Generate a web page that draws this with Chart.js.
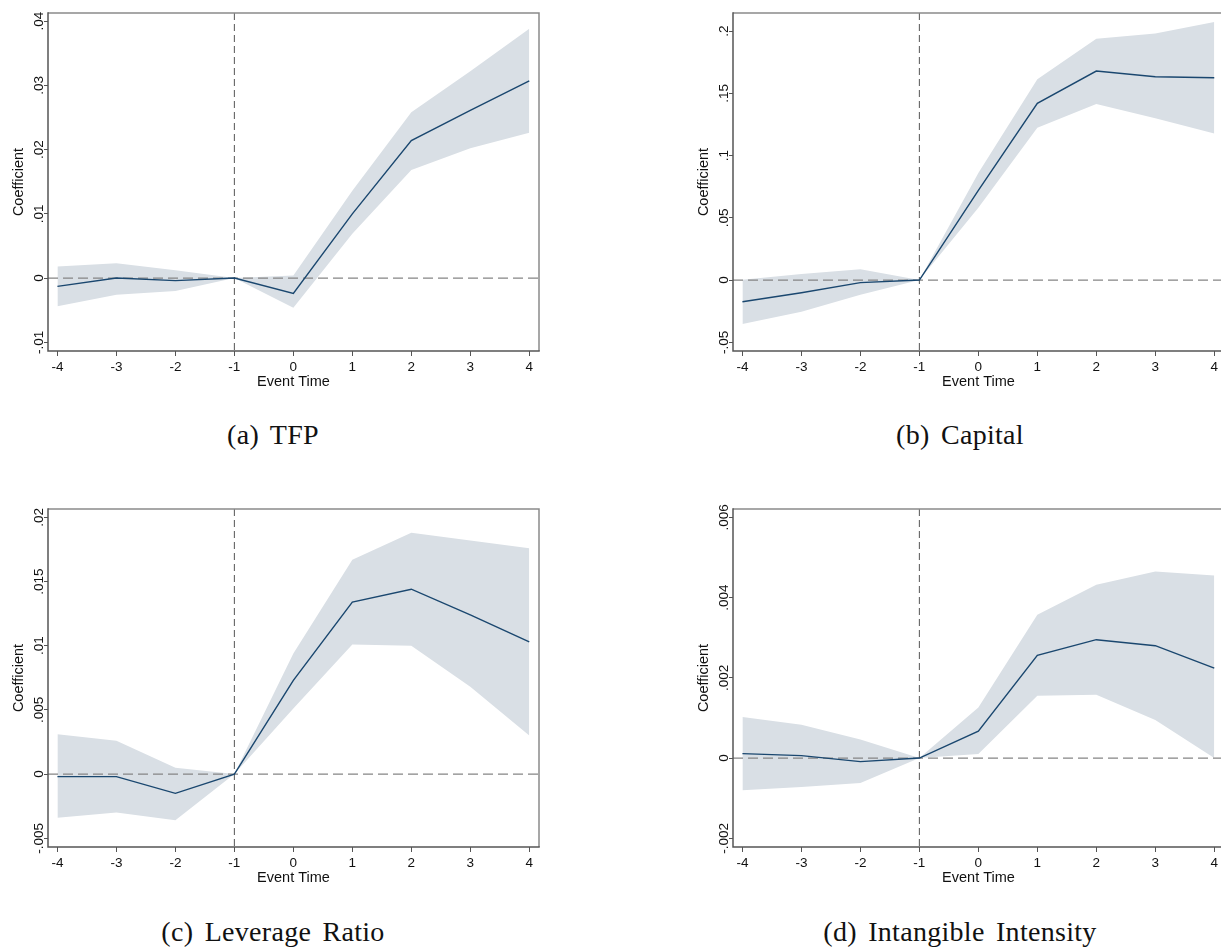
<!DOCTYPE html>
<html>
<head>
<meta charset="utf-8">
<script src="https://cdn.jsdelivr.net/npm/chart.js@4.4.1/dist/chart.umd.min.js"></script>
<style>
  html, body { margin: 0; padding: 0; background: #fff; }
  body { width: 1221px; height: 947px; position: relative; overflow: hidden; }
  canvas { position: absolute; }
  .cap {
    position: absolute; width: 560px; text-align: center;
    font-family: "Liberation Serif", "Times New Roman", serif;
    font-size: 28px; line-height: 28px; color: #111;
    letter-spacing: 0.3px; word-spacing: 4px; white-space: nowrap;
  }
</style>
</head>
<body>
<canvas id="cA" width="560" height="400" style="left:0;top:0"></canvas>
<canvas id="cB" width="560" height="400" style="left:685px;top:0"></canvas>
<canvas id="cC" width="560" height="400" style="left:0;top:496px"></canvas>
<canvas id="cD" width="560" height="400" style="left:685px;top:496px"></canvas>
<div class="cap" style="left:-7px;top:421px">(a) TFP</div>
<div class="cap" style="left:680px;top:421px">(b) Capital</div>
<div class="cap" style="left:-7px;top:918px">(c) Leverage Ratio</div>
<div class="cap" style="left:680px;top:918px">(d) Intangible Intensity</div>
<script>
// event time on the x axis
var eventTime = [-4, -3, -2, -1, 0, 1, 2, 3, 4];
var xTicks = [-4, -3, -2, -1, 0, 1, 2, 3, 4];
var eventLine = -1;

// (a) TFP
var tfpCoef  = [-0.0013, 0.0000, -0.0004, 0, -0.0024, 0.0100, 0.0214, 0.0261, 0.0307];
var tfpUpper = [0.0018, 0.0023, 0.0012, 0, 0.0004, 0.0136, 0.0258, 0.0322, 0.0388];
var tfpLower = [-0.0044, -0.0026, -0.0020, 0, -0.0046, 0.0069, 0.0168, 0.0202, 0.0226];
var tfpTicks = [-0.01, 0, 0.01, 0.02, 0.03, 0.04];
var tfpTickLabels = ["-.01", "0", ".01", ".02", ".03", ".04"];

// (b) Capital
var capCoef  = [-0.0174, -0.0102, -0.0021, 0, 0.072, 0.1419, 0.1679, 0.1633, 0.1625];
var capUpper = [0.0003, 0.0048, 0.0086, 0, 0.086, 0.1612, 0.1938, 0.1981, 0.2072];
var capLower = [-0.0353, -0.0254, -0.0118, 0, 0.058, 0.1224, 0.1414, 0.1299, 0.1178];
var capTicks = [-0.05, 0, 0.05, 0.1, 0.15, 0.2];
var capTickLabels = ["-.05", "0", ".05", ".1", ".15", ".2"];

// (c) Leverage Ratio
var levCoef  = [-0.0002, -0.0002, -0.0015, 0, 0.0073, 0.0134, 0.0144, 0.0124, 0.0103];
var levUpper = [0.0031, 0.0026, 0.0005, 0, 0.0094, 0.0167, 0.0188, 0.0182, 0.0176];
var levLower = [-0.0034, -0.0030, -0.0036, 0, 0.0051, 0.0101, 0.0100, 0.0068, 0.0030];
var levTicks = [-0.005, 0, 0.005, 0.01, 0.015, 0.02];
var levTickLabels = ["-.005", "0", ".005", ".01", ".015", ".02"];

// (d) Intangible Intensity
var intCoef  = [0.00011, 0.00006, -0.00009, 0, 0.00067, 0.00256, 0.00295, 0.0028, 0.00224];
var intUpper = [0.00102, 0.00083, 0.00046, 0, 0.00126, 0.00357, 0.00432, 0.00465, 0.00455];
var intLower = [-0.0008, -0.00072, -0.00062, 0, 0.0001, 0.00155, 0.00158, 0.00095, 0.0];
var intTicks = [-0.002, 0, 0.002, 0.004, 0.006];
var intTickLabels = ["-.002", "0", ".002", ".004", ".006"];

var SANS = '"Liberation Sans", Arial, sans-serif';
var NAVY = "#1a476f";
var BAND = "#d9dfe5";

function pts(vals) {
  return eventTime.map(function (t, i) { return { x: t, y: vals[i] }; });
}

// stata-ish frame, reference lines and rotated y labels
var stataLook = {
  id: "stataLook",
  beforeDatasetsDraw: function (chart) {
    var ctx = chart.ctx, a = chart.chartArea, x = chart.scales.x, y = chart.scales.y;
    ctx.save();
    var y0 = y.getPixelForValue(0);
    ctx.strokeStyle = "#858585";
    ctx.lineWidth = 1.3;
    ctx.setLineDash([10, 5]);
    ctx.beginPath(); ctx.moveTo(a.left, y0); ctx.lineTo(a.right, y0); ctx.stroke();
    var xe = x.getPixelForValue(eventLine);
    ctx.strokeStyle = "#555";
    ctx.lineWidth = 1;
    ctx.setLineDash([7, 4]);
    ctx.beginPath(); ctx.moveTo(xe, a.top); ctx.lineTo(xe, a.bottom); ctx.stroke();
    ctx.restore();
  },
  afterDraw: function (chart) {
    var ctx = chart.ctx, a = chart.chartArea, y = chart.scales.y;
    var o = chart.options.plugins.stataLook;
    ctx.save();
    ctx.lineWidth = 1.5;
    ctx.strokeStyle = "#8a8a8a";
    ctx.beginPath();
    ctx.moveTo(a.left, a.top); ctx.lineTo(a.right, a.top); ctx.lineTo(a.right, a.bottom);
    ctx.stroke();
    ctx.strokeStyle = "#555";
    ctx.beginPath();
    ctx.moveTo(a.left, a.top - 0.75); ctx.lineTo(a.left, a.bottom); ctx.lineTo(a.right + 0.75, a.bottom);
    ctx.stroke();

    ctx.fillStyle = "#111";
    ctx.textAlign = "center";
    ctx.textBaseline = "alphabetic";
    ctx.font = "13.5px " + SANS;
    o.ticks.forEach(function (v, i) {
      ctx.save();
      ctx.translate(a.left - 5, y.getPixelForValue(v));
      ctx.rotate(-Math.PI / 2);
      ctx.fillText(o.labels[i], 0, 0);
      ctx.restore();
    });
    ctx.font = "14.5px " + SANS;
    ctx.translate(23, (a.top + a.bottom) / 2);
    ctx.rotate(-Math.PI / 2);
    ctx.fillText("Coefficient", 0, 0);
    ctx.restore();
  }
};

function makePanel(id, coef, upper, lower, yMin, yMax, yTicks, yLabels) {
  return new Chart(document.getElementById(id), {
    type: "line",
    data: {
      datasets: [
        { data: pts(upper), fill: "+1", backgroundColor: BAND, borderWidth: 0, pointRadius: 0, order: 2 },
        { data: pts(lower), fill: false, borderWidth: 0, pointRadius: 0, order: 2 },
        { data: pts(coef), fill: false, borderColor: NAVY, borderWidth: 1.4, pointRadius: 0, tension: 0, order: 0 }
      ]
    },
    options: {
      responsive: false,
      animation: false,
      events: [],
      layout: { padding: { left: 0, top: 13, right: 21, bottom: 0 } },
      plugins: {
        legend: { display: false },
        tooltip: { enabled: false },
        filler: { drawTime: "beforeDatasetsDraw" },
        stataLook: { ticks: yTicks, labels: yLabels }
      },
      scales: {
        x: {
          type: "linear",
          min: -4.16,
          max: 4.165,
          afterBuildTicks: function (s) { s.ticks = xTicks.map(function (v) { return { value: v }; }); },
          afterFit: function (s) { s.height = 49; },
          grid: { drawOnChartArea: false, drawTicks: true, tickLength: 5, color: "#555", lineWidth: 1 },
          border: { display: false },
          ticks: { font: { family: SANS, size: 13.5 }, color: "#111", padding: 3, maxRotation: 0, autoSkip: false },
          title: { display: true, text: "Event Time", color: "#111", font: { family: SANS, size: 14.5 }, padding: { top: 0, bottom: 9 } }
        },
        y: {
          min: yMin,
          max: yMax,
          afterBuildTicks: function (s) { s.ticks = yTicks.map(function (v) { return { value: v }; }); },
          afterFit: function (s) { s.width = 48; },
          grid: { drawOnChartArea: false, drawTicks: true, tickLength: 4, color: "#555", lineWidth: 1 },
          border: { display: false },
          ticks: { display: false }
        }
      }
    },
    plugins: [stataLook]
  });
}

makePanel("cA", tfpCoef, tfpUpper, tfpLower, -0.01135, 0.04125, tfpTicks, tfpTickLabels);
makePanel("cB", capCoef, capUpper, capLower, -0.05699, 0.2145, capTicks, capTickLabels);
makePanel("cC", levCoef, levUpper, levLower, -0.00568, 0.02065, levTicks, levTickLabels);
makePanel("cD", intCoef, intUpper, intLower, -0.002217, 0.006207, intTicks, intTickLabels);
</script>
</body>
</html>
